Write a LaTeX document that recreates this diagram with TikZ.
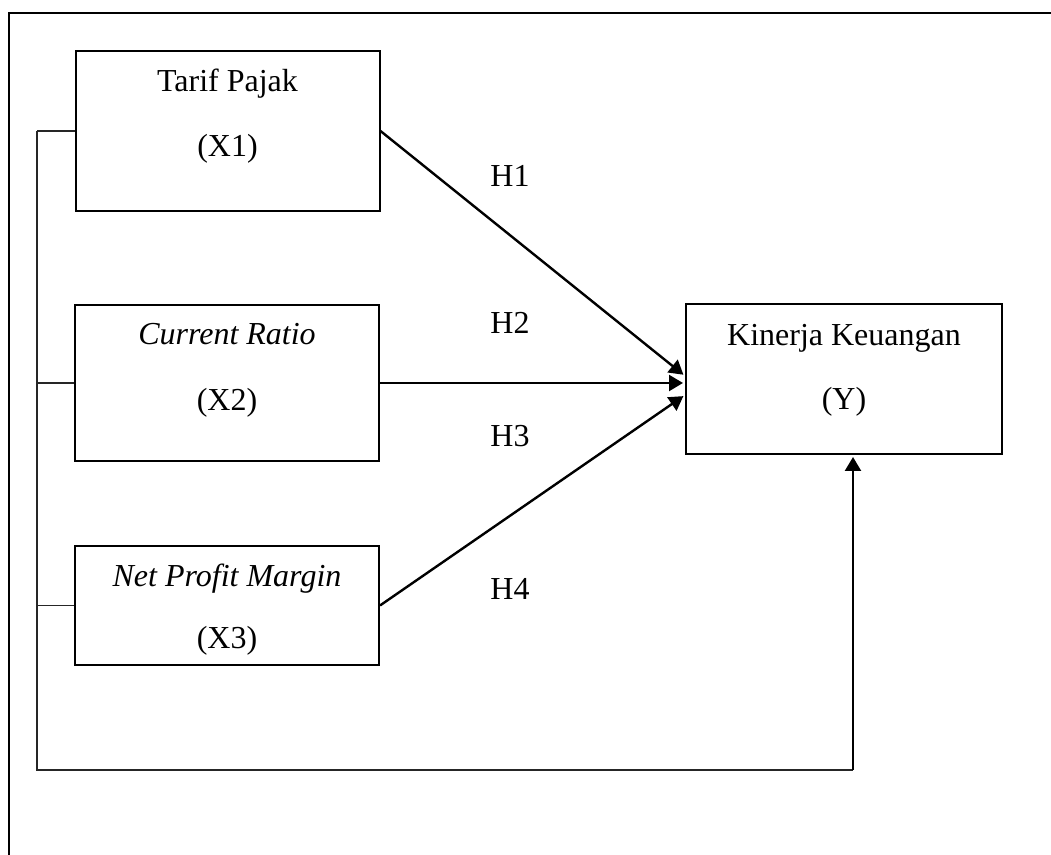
\documentclass[tikz,border=0pt]{standalone}
\usepackage{fontspec}
\setmainfont{Liberation Serif}
\usetikzlibrary{arrows.meta}

\begin{document}
\begin{tikzpicture}[>={Triangle[length=7pt,width=8pt]}, x=0.5pt, y=-0.5pt, font=\fontsize{16}{19}\selectfont]
    % Kerangka pemikiran: pengaruh X1, X2, X3 terhadap Y
    \tikzset{varbox/.style={draw, line width=1pt, inner sep=0pt}, txt/.style={anchor=base, inner sep=0pt}, frameline/.style={line width=1.4pt}, busline/.style={line width=0.8pt, black!85}, arrowline/.style={->, line width=1.2pt, shorten >=1pt}}
    \useasboundingbox (0,0) rectangle (1051,855);
    \draw[frameline] (1051,13) -- (9,13) -- (9,855);
    \node[varbox, minimum width=152pt, minimum height=80pt] (x1) at (227.5,131) {};
    \node[txt] (x1name) at (227.5,92) {Tarif Pajak}; \node[txt] (x1code) at (227.5,157) {(X1)};
    \node[varbox, minimum width=152pt, minimum height=78pt] (x2) at (227,383) {};
    \node[txt] (x2name) at (227,345) {\itshape Current Ratio}; \node[txt] (x2code) at (227,411) {(X2)};
    \node[varbox, minimum width=152pt, minimum height=59.5pt] (x3) at (227,605.5) {};
    \node[txt] (x3name) at (227,587) {\itshape Net Profit Margin}; \node[txt] (x3code) at (227,649) {(X3)};
    \node[varbox, minimum width=158pt, minimum height=75pt] (y) at (844,379) {};
    \node[txt] (yname) at (844,346) {Kinerja Keuangan}; \node[txt] (ycode) at (844,410) {(Y)};
    \draw[arrowline] (x1.east) -- ([yshift=1.5pt]y.west);
    \draw[arrowline] (x2.east) -- ([yshift=-2pt]y.west);
    \draw[arrowline] (x3.east) -- ([yshift=-8pt]y.west);
    \node[txt] (h1) at (510,187) {H1}; \node[txt] (h2) at (510,334) {H2};
    \node[txt] (h3) at (510,447) {H3}; \node[txt] (h4) at (510,600) {H4};
    \coordinate (bustop) at (37,131); \coordinate (busbot) at (37,770); \coordinate (busend) at (853,770);
    \draw[busline] (bustop) -- (busbot) -- (busend);
    \draw[busline] (x1.west) -- (x1.west -| bustop); \draw[busline] (x2.west) -- (x2.west -| bustop); \draw[busline] (x3.west) -- (x3.west -| bustop);
    \draw[arrowline] (busend) -- (busend |- y.south);
\end{tikzpicture}
\end{document}
